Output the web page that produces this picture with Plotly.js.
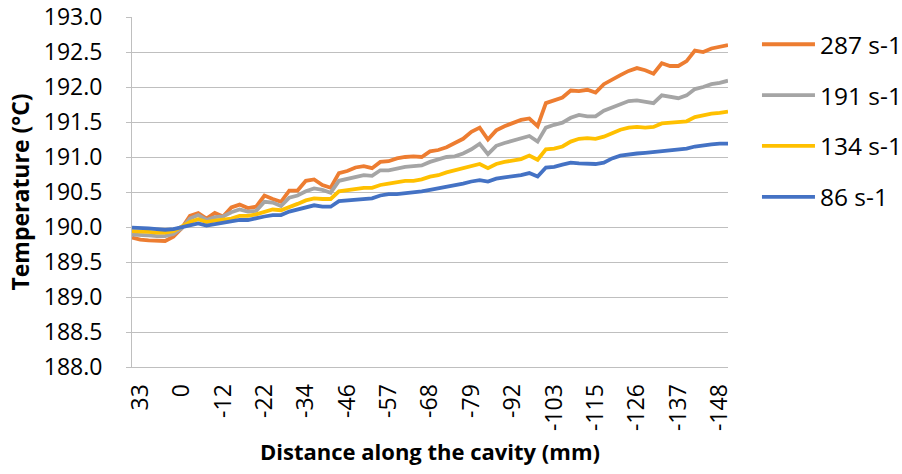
<!DOCTYPE html>
<html>
<head>
<meta charset="utf-8">
<script src="https://cdn.plot.ly/plotly-3.0.1.min.js"></script>
<style>
  html, body { margin: 0; padding: 0; background: #fff; }
  #chart { width: 902px; height: 474px; }
</style>
</head>
<body>
<div id="chart"></div>
<script>
// Temperature profile along the cavity for four shear rates.
// Points are equally spaced samples; every fifth sample carries a distance label.
const tickIndex = [1, 6, 11, 16, 21, 26, 31, 36, 41, 46, 51, 56, 61, 66, 71];
const tickLabels = ['33', '0', '-12', '-22', '-34', '-46', '-57', '-68', '-79', '-92', '-103', '-115', '-126', '-137', '-148'];

const rate287 = [189.85, 189.82, 189.81, 189.80, 189.80, 189.86, 189.98, 190.16, 190.20, 190.12,
  190.20, 190.15, 190.28, 190.32, 190.27, 190.29, 190.45, 190.40, 190.36, 190.52,
  190.52, 190.66, 190.68, 190.60, 190.56, 190.77, 190.80, 190.85, 190.87, 190.84,
  190.93, 190.94, 190.98, 191.00, 191.01, 191.00, 191.08, 191.10, 191.14, 191.20,
  191.26, 191.36, 191.42, 191.25, 191.38, 191.44, 191.48, 191.53, 191.55, 191.44,
  191.77, 191.81, 191.85, 191.95, 191.94, 191.96, 191.92, 192.04, 192.11, 192.17,
  192.23, 192.27, 192.24, 192.19, 192.34, 192.30, 192.30, 192.37, 192.52, 192.50,
  192.55, 192.57, 192.60];

const rate191 = [189.89, 189.89, 189.88, 189.87, 189.87, 189.90, 189.98, 190.12, 190.17, 190.10,
  190.14, 190.15, 190.21, 190.25, 190.22, 190.23, 190.36, 190.35, 190.30, 190.42,
  190.45, 190.51, 190.55, 190.53, 190.49, 190.66, 190.69, 190.72, 190.74, 190.73,
  190.81, 190.81, 190.84, 190.86, 190.87, 190.88, 190.93, 190.96, 191.00, 191.01,
  191.05, 191.11, 191.19, 191.04, 191.16, 191.20, 191.23, 191.26, 191.30, 191.22,
  191.42, 191.46, 191.49, 191.56, 191.60, 191.58, 191.58, 191.66, 191.71, 191.76,
  191.80, 191.81, 191.79, 191.77, 191.88, 191.86, 191.84, 191.88, 191.97, 192.00,
  192.04, 192.06, 192.09];

const rate134 = [189.94, 189.94, 189.93, 189.92, 189.92, 189.94, 190.01, 190.07, 190.11, 190.07,
  190.09, 190.10, 190.12, 190.16, 190.16, 190.18, 190.22, 190.25, 190.24, 190.28,
  190.33, 190.38, 190.41, 190.40, 190.40, 190.51, 190.53, 190.54, 190.56, 190.56,
  190.60, 190.62, 190.64, 190.66, 190.66, 190.68, 190.72, 190.74, 190.78, 190.81,
  190.84, 190.86, 190.90, 190.84, 190.90, 190.93, 190.95, 190.97, 191.02, 190.96,
  191.11, 191.12, 191.15, 191.22, 191.26, 191.27, 191.26, 191.29, 191.34, 191.39,
  191.42, 191.43, 191.42, 191.43, 191.48, 191.49, 191.50, 191.51, 191.57, 191.60,
  191.62, 191.63, 191.65];

const rate86 = [189.99, 189.99, 189.98, 189.97, 189.96, 189.97, 190.00, 190.03, 190.05, 190.02,
  190.04, 190.05, 190.07, 190.10, 190.10, 190.13, 190.15, 190.17, 190.17, 190.22,
  190.25, 190.28, 190.31, 190.29, 190.29, 190.37, 190.38, 190.40, 190.41, 190.41,
  190.45, 190.47, 190.47, 190.48, 190.49, 190.51, 190.53, 190.55, 190.58, 190.60,
  190.62, 190.65, 190.67, 190.65, 190.69, 190.71, 190.72, 190.74, 190.77, 190.72,
  190.85, 190.86, 190.89, 190.92, 190.91, 190.91, 190.90, 190.92, 190.98, 191.02,
  191.04, 191.05, 191.06, 191.07, 191.08, 191.09, 191.10, 191.12, 191.15, 191.17,
  191.18, 191.19, 191.19];

const seriesNames = ['287 s-1', '191 s-1', '134 s-1', '86 s-1'];
const seriesColors = ['#ED7D31', '#A5A5A5', '#FFC000', '#4472C4'];
const seriesValues = [rate287, rate191, rate134, rate86];

const sampleIndex = rate287.map((_, i) => i);

const FONT = 'Open Sans, Noto Sans, sans-serif';
const GRID = '#bfbfbf';

const traces = seriesValues.map((vals, k) => ({
  type: 'scatter',
  mode: 'lines',
  name: seriesNames[k],
  legendgroup: 'g' + k,
  x: sampleIndex,
  y: vals,
  line: { color: seriesColors[k], width: 3.8 },
  hoverinfo: 'x+y+name'
}));

const layout = {
  width: 902,
  height: 474,
  margin: { l: 132, r: 174, t: 17, b: 107, pad: 0 },
  paper_bgcolor: '#ffffff',
  plot_bgcolor: '#ffffff',
  font: { family: FONT, size: 23, color: '#000000' },
  showlegend: true,
  legend: {
    xref: 'container', yref: 'container',
    x: 0.837, xanchor: 'left',
    y: 0.954, yanchor: 'top',
    font: { family: FONT, size: 24.5, color: '#000000' },
    tracegroupgap: 16,
    itemwidth: 55,
    bgcolor: 'rgba(0,0,0,0)'
  },
  xaxis: {
    range: [0, 72],
    automargin: 'bottom',
    tickmode: 'array',
    tickvals: tickIndex,
    ticktext: tickLabels,
    tickangle: -90,
    showgrid: false,
    zeroline: false,
    showline: true,
    linecolor: GRID,
    linewidth: 1,
    ticks: '',
    ticklabelstandoff: 7,
    tickfont: { family: FONT, size: 23, color: '#000000' },
    title: {
      text: 'Distance along the cavity (mm)',
      font: { family: FONT, size: 22, color: '#000000', weight: 'bold' },
      standoff: 14
    }
  },
  yaxis: {
    range: [188, 193],
    automargin: 'left',
    tick0: 188,
    dtick: 0.5,
    tickformat: '.1f',
    showgrid: true,
    gridcolor: GRID,
    gridwidth: 1,
    zeroline: false,
    showline: true,
    linecolor: GRID,
    linewidth: 1,
    ticks: 'outside',
    ticklen: 5,
    tickcolor: GRID,
    ticklabelstandoff: 19,
    tickfont: { family: FONT, size: 23, color: '#000000' },
    title: {
      text: 'Temperature (°C)',
      font: { family: FONT, size: 23, color: '#000000', weight: 'bold' },
      standoff: 7
    }
  }
};

Plotly.newPlot('chart', traces, layout, { displayModeBar: false, staticPlot: true }).then(() => {
  // Longer legend line samples, ending just before the item text.
  document.querySelectorAll('#chart .legend .legendlines path').forEach(p => {
    p.setAttribute('d', 'M7,0h53');
  });
});
</script>
</body>
</html>
